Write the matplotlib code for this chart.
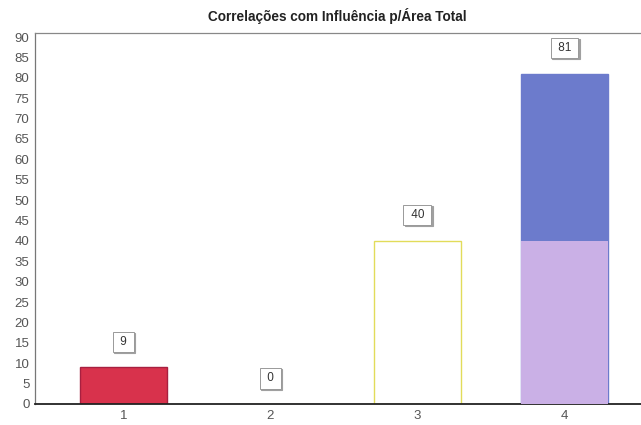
import matplotlib
matplotlib.use("Agg")
import matplotlib.pyplot as plt

# Chart data
categories = ["1", "2", "3", "4"]
values = [9, 0, 40, 81]
bar4_lower = 40          # lighter lower band of the fourth bar
y_ticks = list(range(0, 95, 5))

fill_colors = ["#d8324c", "#ffffff", "#ffffff", "#6c7bcc"]
edge_colors = ["#a82040", "#e4e0a0", "#e2dc5a", "#6c7bcc"]

fig = plt.figure(figsize=(6.41, 4.25), dpi=100)
ax = fig.add_axes([35 / 641, 21 / 425, 606 / 641, 371 / 425])

x = list(range(1, len(categories) + 1))
ax.bar(x, values, width=0.59, color=fill_colors, edgecolor=edge_colors,
       linewidth=1.0, zorder=2)
# lower band of the fourth bar
ax.bar([x[3]], [bar4_lower], width=0.59, color="#cab0e6",
       edgecolor="#cab0e6", linewidth=0, zorder=3)

# value labels in small boxed callouts with a faint shadow
for xi, v in zip(x, values):
    txt = f" {v} "
    ax.annotate(txt, xy=(xi, v), xytext=(0.8, 18.8), textcoords="offset points",
                ha="center", va="center_baseline", fontsize=8.5, color="white",
                family="Liberation Sans",
                bbox=dict(boxstyle="square,pad=0.35", fc="#a0a0a0", ec="#a0a0a0", lw=0.8),
                zorder=4)
    ax.annotate(txt, xy=(xi, v), xytext=(0, 19.5), textcoords="offset points",
                ha="center", va="center_baseline", fontsize=8.5, color="#333333",
                family="Liberation Sans",
                bbox=dict(boxstyle="square,pad=0.35", fc="white", ec="#999999", lw=0.7),
                zorder=5)

ax.set_xlim(0.4, 4.52)
ax.set_ylim(0, 91)
ax.set_xticks(x)
ax.set_xticklabels(categories)
ax.set_yticks(y_ticks)
ax.tick_params(axis="both", length=0, labelsize=9.5, labelcolor="#555555", pad=4)
for lbl in ax.get_xticklabels() + ax.get_yticklabels():
    lbl.set_family("Liberation Sans")

ax.spines["right"].set_visible(False)
ax.spines["top"].set_color("#888888")
ax.spines["top"].set_linewidth(0.9)
ax.spines["left"].set_color("#777777")
ax.spines["left"].set_linewidth(0.9)
ax.spines["bottom"].set_color("#222222")
ax.spines["bottom"].set_linewidth(1.3)

fig.text(337 / 641, 1 - 16 / 425, "Correlações com Influência p/Área Total",
         ha="center", va="center", fontsize=9.8, fontweight="bold",
         color="#222222", family="Liberation Sans")

fig.savefig("out.png", dpi=100, facecolor="white")
